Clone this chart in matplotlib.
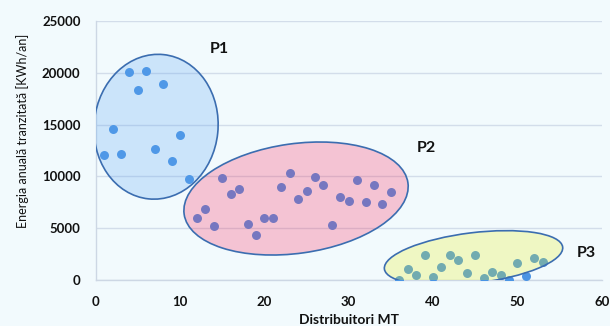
import matplotlib
matplotlib.use("Agg")
import matplotlib.pyplot as plt
from matplotlib.patches import Ellipse
from matplotlib.transforms import Affine2D

# Distributors and yearly energy per group
p1_x = [1, 2, 3, 4, 5, 6, 7, 8, 9, 10, 11]
p1_y = [12100, 14600, 12200, 20100, 18300, 20200, 12600, 18900, 11500, 14000, 9800]

p2_x = list(range(12, 36))
p2_y = [5970, 6900, 5230, 9820, 8340, 8820, 5450, 4330, 6030, 6030, 8960, 10300,
        7860, 8600, 9950, 9210, 5350, 7990, 7640, 9690, 7570, 9150, 7380, 8480]

p3_x = list(range(36, 54))
p3_y = [0, 1090, 480, 2460, 320, 1310, 2460, 1930, 700, 2460, 250, 770, 510,
        30, 1670, 390, 2180, 1790]

group_names = ["P1", "P2", "P3"]

# ellipse: center x, center y, width, height (in x units), angle, fill
groups = [
    (7.15, 14790, 14.7, 17.2, -6, (94/255, 166/255, 242/255, 0.26)),
    (23.75, 7880, 26.8, 13.0, 8, (250/255, 34/255, 86/255, 0.25)),
    (44.8, 2150, 21.3, 6.0, 7, (234/255, 242/255, 22/255, 0.25)),
]
label_pos = [(14.7, 22270), (39.2, 12740), (58.2, 2680)]

bg = "#F2FAFD"
plt.rcParams["font.family"] = ["Lato", "DejaVu Sans"]

fig = plt.figure(figsize=(6.1, 3.26), dpi=100, facecolor=bg)
ax = fig.add_axes([0.157, 0.140, 0.8294, 0.7965])
ax.set_facecolor(bg)

all_x = p1_x + p2_x + p3_x
all_y = p1_y + p2_y + p3_y
ax.scatter(all_x, all_y, s=42, color="#4A94E4", zorder=3, linewidths=0)

ax.set_xlim(0, 60)
ax.set_ylim(0, 25000)
ax.set_xticks(range(0, 61, 10))
ax.set_yticks(range(0, 25001, 5000))

# isotropic (pixel-like) space so rotated ellipses look right
ky = (ax.bbox.width / 60) / (ax.bbox.height / 25000)
iso = Affine2D().scale(1, ky) + ax.transData
for cx, cy, w, h, ang, fc in groups:
    e = Ellipse((cx, cy / ky), w, h, angle=ang, transform=iso,
                facecolor=fc, edgecolor="#3B6DB0", linewidth=1.2, zorder=4)
    ax.add_patch(e)

for name, (tx, ty) in zip(group_names, label_pos):
    ax.text(tx, ty, name, ha="center", va="center", fontsize=11.5,
            fontweight="bold", color="#111111")

ax.grid(axis="y", color="#D3DDEA", linewidth=1.0)
ax.set_axisbelow(True)
for side in ["top", "right"]:
    ax.spines[side].set_visible(False)
for side in ["left", "bottom"]:
    ax.spines[side].set_color("#CDD7E4")
    ax.spines[side].set_linewidth(1.0)
ax.tick_params(length=0, labelsize=9.5, pad=11, colors="#111111")
for lab in ax.get_xticklabels() + ax.get_yticklabels():
    lab.set_fontweight("bold")

ax.set_ylabel("Energia anuală tranzitată [KWh/an]", fontsize=9, color="#111111")
ax.yaxis.set_label_coords(-0.132, 0.575)
ax.set_xlabel("Distribuitori MT", fontsize=10, fontweight="bold", color="#111111")
ax.xaxis.set_label_coords(0.5, -0.128)

fig.savefig("out.png", dpi=100, facecolor=bg)
